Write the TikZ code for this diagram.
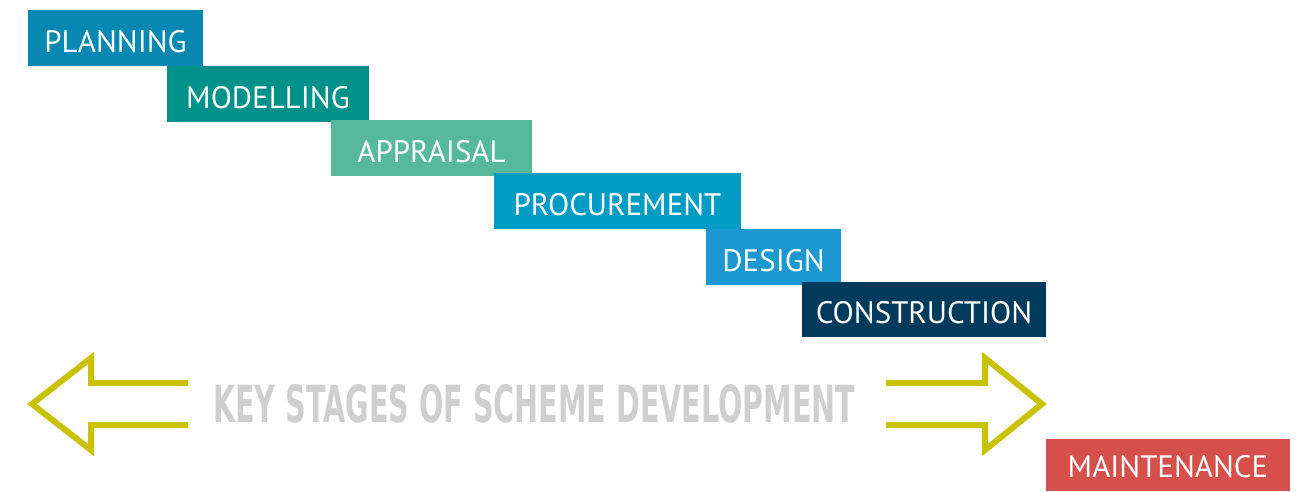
\documentclass[tikz,border=0pt]{standalone}
\usepackage{fontspec}
\usepackage{graphicx}
\setmainfont{PT Sans}
\newfontfamily\keyfont{DejaVu Sans Condensed Bold}
\definecolor{cPlan}{HTML}{0788B3}
\definecolor{cModel}{HTML}{00918A}
\definecolor{cApp}{HTML}{56B99B}
\definecolor{cProc}{HTML}{009CC4}
\definecolor{cDes}{HTML}{1B98D0}
\definecolor{cCons}{HTML}{003A5D}
\definecolor{cMaint}{HTML}{D5504A}
\definecolor{cArrow}{HTML}{C8C200}
\definecolor{cKey}{HTML}{CFCFCF}
\tikzset{
  stagebox/.style={anchor=north west, inner sep=0pt, outer sep=0pt,
    minimum height=56pt, text height=28pt, text depth=0pt,
    text=white, font=\fontsize{31}{31}\selectfont},
  bigarrow/.style={draw=cArrow, line width=6pt, miter limit=10, line join=miter}
}
\begin{document}
\begin{tikzpicture}[x=1pt,y=-1pt]
\useasboundingbox (0,0) rectangle (1297,491);
\node[stagebox, fill=cPlan,  minimum width=175pt] (plan)  at (28,10)   {PLANNING};
\node[stagebox, fill=cModel, minimum width=202pt] (model) at (167,66)  {MODELLING};
\node[stagebox, fill=cApp,   minimum width=201pt] (app)   at (331,120) {APPRAISAL};
\node[stagebox, fill=cProc,  minimum width=247pt] (proc)  at (494,173) {PROCUREMENT};
\node[stagebox, fill=cDes,   minimum width=135pt] (des)   at (706,229) {DESIGN};
\node[stagebox, fill=cCons,  minimum width=244pt, minimum height=55pt] (cons) at (802,282) {CONSTRUCTION};
\node[stagebox, fill=cMaint, minimum width=244pt, minimum height=52pt, text height=24pt] (maint) at (1046,439) {MAINTENANCE};
\node[anchor=south west, inner sep=0pt, text=cKey] (key) at (213,423)
  {\resizebox{642pt}{38pt}{\keyfont KEY STAGES OF SCHEME DEVELOPMENT}};
% left arrow
\coordinate (la1) at (188,383);
\coordinate (la2) at (188,425);
\draw[bigarrow] (la1) -- (91,383) -- (91,358) -- (32,404) -- (91,450) -- (91,425) -- (la2);
% right arrow
\coordinate (ra1) at (886,383);
\coordinate (ra2) at (886,425);
\draw[bigarrow] (ra1) -- (985,383) -- (985,358) -- (1042,404) -- (985,450) -- (985,425) -- (ra2);
\end{tikzpicture}
\end{document}
